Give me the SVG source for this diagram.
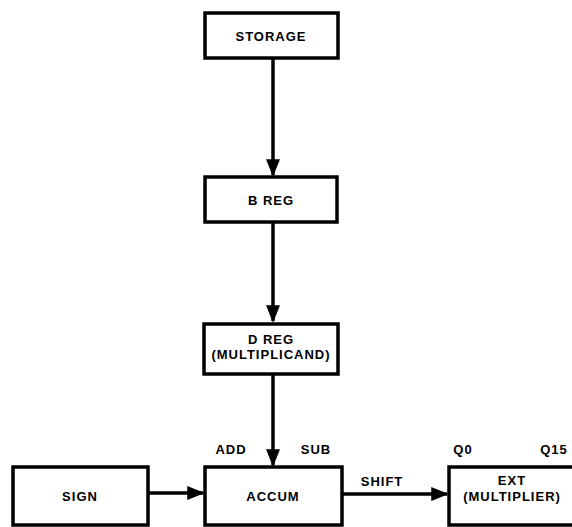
<svg xmlns="http://www.w3.org/2000/svg" width="572" height="527" viewBox="0 0 572 527">
<style>
.box{fill:#fff;stroke:#000;stroke-width:3.5}
.t{font-family:"Liberation Sans",Arial,sans-serif;font-weight:bold;font-size:13px;fill:#000;text-anchor:middle;letter-spacing:1px}
.ln{stroke:#000;stroke-width:3.5;fill:none}
</style>
<defs>
<marker id="ah" markerWidth="5" markerHeight="4" refX="4.5" refY="2" orient="auto" markerUnits="strokeWidth">
<path d="M0,0 L5,2 L0,4 Z" fill="#000"/>
</marker>
</defs>
<rect width="572" height="527" fill="#fff"/>
<g id="connectors">
<line class="ln" x1="273" y1="58" x2="273" y2="175" marker-end="url(#ah)"/>
<line class="ln" x1="273" y1="222" x2="273" y2="321" marker-end="url(#ah)"/>
<line class="ln" x1="273" y1="374" x2="273" y2="465" marker-end="url(#ah)"/>
<line class="ln" x1="148" y1="493" x2="203" y2="493" marker-end="url(#ah)"/>
<line class="ln" x1="342" y1="494" x2="447" y2="494" marker-end="url(#ah)"/>
</g>
<g id="storage">
<rect class="box" x="205" y="13" width="133" height="45"/>
<text class="t" x="271" y="41">STORAGE</text>
</g>
<g id="breg">
<rect class="box" x="205" y="177" width="132" height="45"/>
<text class="t" x="271" y="205">B REG</text>
</g>
<g id="dreg">
<rect class="box" x="204" y="324" width="134" height="50"/>
<text class="t" x="271" y="344">D REG</text>
<text class="t" x="271" y="359">(MULTIPLICAND)</text>
</g>
<g id="sign">
<rect class="box" x="13" y="467" width="135" height="58"/>
<text class="t" x="80" y="501">SIGN</text>
</g>
<g id="accum">
<rect class="box" x="205" y="467" width="137" height="58"/>
<text class="t" x="273" y="501">ACCUM</text>
</g>
<g id="ext">
<rect class="box" x="449" y="467" width="130" height="58"/>
<text class="t" x="512" y="485">EXT</text>
<text class="t" x="512" y="501">(MULTIPLIER)</text>
</g>
<g id="labels">
<text class="t" x="231" y="454">ADD</text>
<text class="t" x="316" y="454">SUB</text>
<text class="t" x="463" y="454">Q0</text>
<text class="t" x="554" y="454">Q15</text>
<text class="t" x="382" y="486">SHIFT</text>
</g>
</svg>
